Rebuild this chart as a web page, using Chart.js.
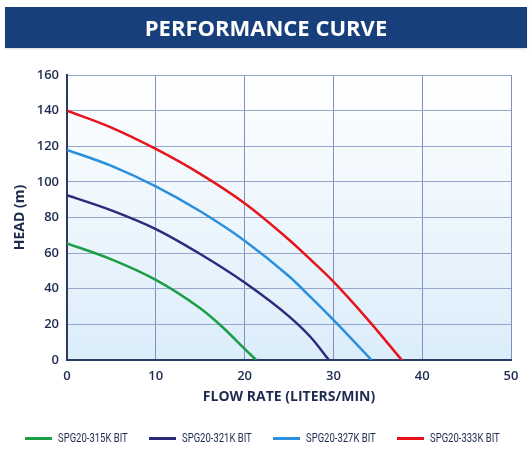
<!DOCTYPE html>
<html>
<head>
<meta charset="utf-8">
<script src="https://cdn.jsdelivr.net/npm/chart.js@4/dist/chart.umd.min.js"></script>
<style>
  html, body { margin: 0; padding: 0; background: #ffffff; }
  #wrap { position: relative; width: 532px; height: 449px; overflow: hidden; }
  #banner {
    position: absolute; left: 5px; top: 7px; width: 522px; height: 41px;
    background: #173f7c; color: #fff; text-align: center;
    font-family: "Open Sans", sans-serif; font-weight: 700; font-size: 22px;
    line-height: 41px; box-shadow: 0 1px 2px rgba(0,0,0,0.15); z-index: 2;
  }
  canvas { position: absolute; left: 0; top: 0; }
  #legend {
    position: absolute; left: 0; top: 429px; width: 532px; height: 18px;
    display: flex; justify-content: center; align-items: center; gap: 22px;
    box-sizing: border-box; padding-right: 8px;
  }
  .item { display: flex; align-items: center; width: 102px; height: 18px; }
  .swatch { width: 27px; height: 3px; margin-right: 6px; flex: none; }
  .txt { width: 69px; height: 18px; position: relative; flex: none; }
  .txt span {
    position: absolute; left: 0; top: 0; line-height: 18px; white-space: nowrap;
    font-family: Roboto, sans-serif; font-size: 12.5px; color: #1e2b50;
    transform: scaleX(0.76); transform-origin: 0 50%;
  }
</style>
</head>
<body>
<div id="wrap">
  <div id="banner">PERFORMANCE CURVE</div>
  <canvas id="c" width="532" height="449"></canvas>
  <div id="legend"></div>
</div>
<script>
const seriesNames = ["SPG20-315K BIT", "SPG20-321K BIT", "SPG20-327K BIT", "SPG20-333K BIT"];
const seriesColors = ["#1b9e45", "#2d2a7c", "#2b8fdb", "#e8141b"];
const flow315 = [0, 5, 10, 15, 17.5, 20, 21.3];
const head315 = [65.5, 56.5, 45, 29, 18.5, 6.3, 0];
const flow321 = [0, 5, 10, 15, 20, 25, 27.5, 29.5];
const head321 = [92.5, 84, 73.5, 59.5, 43.5, 24.5, 12.5, 0];
const flow327 = [0, 5, 10, 15, 20, 25, 27.5, 30, 34.3];
const head327 = [118, 109, 97.5, 83.5, 67, 47, 35, 22.5, 0];
const flow333 = [0, 5, 10, 15, 20, 25, 27.5, 30, 34, 37.7];
const head333 = [140, 130.5, 118.5, 104.5, 88, 67.5, 56, 44, 22, 0];
const xTicks = [0, 10, 20, 30, 40, 50];
const yTicks = [0, 20, 40, 60, 80, 100, 120, 140, 160];

const flows = [flow315, flow321, flow327, flow333];
const heads = [head315, head321, head327, head333];

const datasets = seriesNames.map((name, i) => ({
  label: name,
  data: flows[i].map((f, j) => ({ x: f, y: heads[i][j] })),
  borderColor: seriesColors[i],
  backgroundColor: seriesColors[i],
  borderWidth: 2.5,
  pointRadius: 0,
  cubicInterpolationMode: 'monotone',
  fill: false
}));

// HTML legend built from the series arrays
const legendEl = document.getElementById('legend');
seriesNames.forEach((name, i) => {
  const item = document.createElement('div');
  item.className = 'item';
  const sw = document.createElement('div');
  sw.className = 'swatch';
  sw.style.background = seriesColors[i];
  const t = document.createElement('div');
  t.className = 'txt';
  const s = document.createElement('span');
  s.textContent = name;
  t.appendChild(s);
  item.appendChild(sw);
  item.appendChild(t);
  legendEl.appendChild(item);
});

const bgPlugin = {
  id: 'plotBg',
  beforeDraw(chart) {
    const { ctx, chartArea: a } = chart;
    const g = ctx.createLinearGradient(0, a.top, 0, a.bottom);
    g.addColorStop(0, '#ffffff');
    g.addColorStop(1, '#dbedfa');
    ctx.save();
    ctx.fillStyle = g;
    ctx.fillRect(a.left, a.top, a.right - a.left, a.bottom - a.top);
    ctx.restore();
  }
};

const tickFont = { family: "'Open Sans', sans-serif", size: 13, weight: '600' };
const titleFont = { family: "'Open Sans', sans-serif", size: 14, weight: '700' };
const axisColor = '#1e2b50';

new Chart(document.getElementById('c'), {
  type: 'line',
  data: { datasets },
  options: {
    responsive: false,
    animation: false,
    layout: { padding: { top: 75, left: 0, right: 21, bottom: 39 } },
    plugins: {
      tooltip: { enabled: false },
      legend: { display: false }
    },
    scales: {
      x: {
        type: 'linear',
        min: 0, max: 50,
        afterBuildTicks(scale) { scale.ticks = xTicks.map(v => ({ value: v })); },
        afterFit(scale) { scale.height = 50; },
        ticks: { font: tickFont, color: axisColor, padding: 8, maxRotation: 0 },
        grid: { color: '#7f90c2', lineWidth: 1, drawTicks: false },
        border: { color: '#2b3a63', width: 2 },
        title: {
          display: true, text: 'FLOW RATE (LITERS/MIN)', color: axisColor,
          font: titleFont, padding: { top: 0, bottom: 4.6 }
        }
      },
      y: {
        type: 'linear',
        min: 0, max: 160,
        afterBuildTicks(scale) { scale.ticks = yTicks.map(v => ({ value: v })); },
        afterFit(scale) { scale.width = 67; },
        ticks: { font: tickFont, color: axisColor, padding: 8 },
        grid: { color: '#97a5cc', lineWidth: 1, drawTicks: false },
        border: { color: '#2b3a63', width: 2 },
        title: {
          display: true, text: 'HEAD (m)', color: axisColor,
          font: titleFont, padding: { top: 12, bottom: 0 }
        }
      }
    }
  },
  plugins: [bgPlugin]
});
</script>
</body>
</html>
